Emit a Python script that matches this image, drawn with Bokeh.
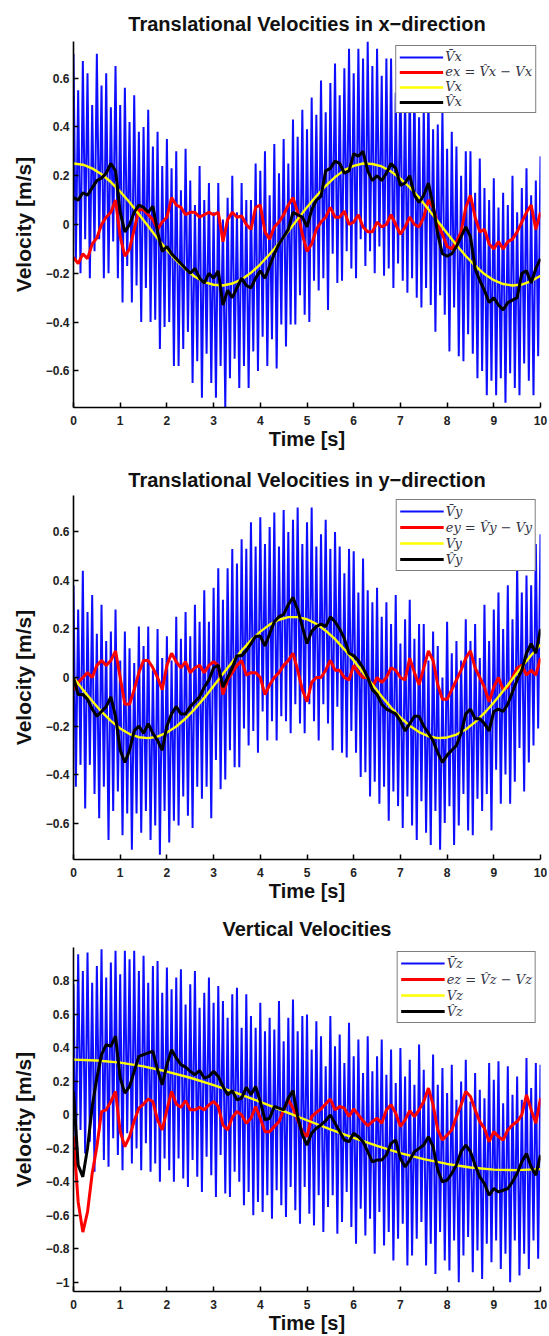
import numpy as np
from bokeh.plotting import figure
from bokeh.layouts import column
from bokeh.models import Range1d, FixedTicker, Legend, LegendItem
from bokeh.embed import file_html
from bokeh.resources import INLINE

# ---------------- data ----------------
x_ticks = [0, 1, 2, 3, 4, 5, 6, 7, 8, 9, 10]
xy_ticks = [-0.6, -0.4, -0.2, 0.0, 0.2, 0.4, 0.6]
xy_tick_labels = ["\u22120.6", "\u22120.4", "\u22120.2", "0", "0.2", "0.4", "0.6"]
z_ticks = [-1.0, -0.8, -0.6, -0.4, -0.2, 0.0, 0.2, 0.4, 0.6, 0.8]
z_tick_labels = ["\u22121", "\u22120.8", "\u22120.6", "\u22120.4", "\u22120.2", "0", "0.2", "0.4", "0.6", "0.8"]

titles = ["Translational Velocities in x\u2212direction",
          "Translational Velocities in y\u2212direction",
          "Vertical Velocities"]

labels_x = ["V\u0304x", "ex = V\u0302x \u2212 Vx", "Vx", "V\u0302x"]
labels_y = ["V\u0304y", "ey = V\u0302y \u2212 Vy", "Vy", "V\u0302y"]
labels_z = ["V\u0304z", "ez = V\u0302z \u2212 Vz", "Vz", "V\u0302z"]

# time bases (sample spacing of each series)
t_blue = np.arange(201) * 0.05
t_est = np.arange(101) * 0.1
t_ref_xy = np.arange(51) * 0.2
t_ref_z = np.arange(21) * 0.5

# measured velocity (noisy), x
blue_x = [0.70, -0.15, 0.55, -0.20, 0.67, -0.06, 0.62, -0.22, 0.49, -0.11,
          0.70, -0.06, 0.57, -0.22, 0.62, -0.20, 0.48, -0.07, 0.65, -0.22,
          0.49, -0.32, 0.56, -0.17, 0.42, -0.32, 0.53, -0.25, 0.38, -0.40,
          0.40, -0.26, 0.47, -0.40, 0.32, -0.39, 0.38, -0.51, 0.24, -0.42,
          0.35, -0.40, 0.23, -0.58, 0.30, -0.58, 0.14, -0.51, 0.31, -0.44,
          0.18, -0.65, 0.08, -0.56, 0.24, -0.71, 0.10, -0.53, 0.17, -0.65,
          0.05, -0.71, 0.17, -0.58, 0.02, -0.75, 0.11, -0.63, 0.20, -0.55,
          0.05, -0.67, 0.17, -0.58, 0.10, -0.67, 0.10, -0.52, 0.25, -0.60,
          0.22, -0.46, 0.30, -0.58, 0.12, -0.47, 0.33, -0.59, 0.21, -0.41,
          0.35, -0.50, 0.25, -0.41, 0.43, -0.41, 0.36, -0.29, 0.47, -0.37,
          0.39, -0.40, 0.52, -0.23, 0.45, -0.27, 0.59, -0.22, 0.46, -0.35,
          0.58, -0.12, 0.66, -0.24, 0.53, -0.23, 0.64, -0.11, 0.72, -0.18,
          0.62, -0.22, 0.72, -0.06, 0.68, -0.17, 0.75, -0.11, 0.65, -0.20,
          0.72, -0.09, 0.61, -0.21, 0.68, -0.18, 0.68, -0.26, 0.54, -0.16,
          0.63, -0.23, 0.54, -0.28, 0.59, -0.22, 0.59, -0.30, 0.44, -0.34,
          0.49, -0.26, 0.55, -0.33, 0.39, -0.44, 0.41, -0.29, 0.47, -0.37,
          0.31, -0.52, 0.38, -0.34, 0.32, -0.54, 0.20, -0.56, 0.30, -0.45,
          0.30, -0.53, 0.13, -0.63, 0.27, -0.60, 0.15, -0.70, 0.10, -0.64,
          0.19, -0.70, 0.07, -0.63, 0.13, -0.73, 0.08, -0.61, 0.20, -0.67,
          0.05, -0.70, 0.15, -0.57, 0.23, -0.64, 0.12, -0.70, 0.18, -0.54,
          0.28]

err_x = [-0.135, -0.16, -0.12, -0.14, -0.08, -0.055, 0.0, 0.03, 0.05, 0.10,
         -0.05, -0.13, -0.10, -0.02, 0.06, 0.06, 0.04, 0.02, -0.02, 0.01,
         0.03, 0.11, 0.08, 0.07, 0.04, 0.05, 0.05, 0.03, 0.04, 0.05,
         0.04, 0.05, -0.07, 0.02, 0.05, 0.03, 0.035, 0.0, -0.02, 0.07,
         0.08, -0.03, -0.06, -0.01, 0.01, 0.04, 0.08, 0.11, 0.05, -0.04,
         -0.11, -0.08, -0.02, 0.01, 0.03, 0.07, 0.03, 0.03, 0.055, 0.0,
         0.01, 0.04, -0.01, -0.03, -0.03, 0.01, -0.01, 0.0, 0.04, 0.0,
         -0.04, -0.01, 0.03, 0.0, -0.01, 0.03, 0.10, 0.07, 0.0, -0.04,
         -0.09, -0.10, -0.07, -0.03, 0.07, 0.12, 0.03, -0.03, -0.02, -0.08,
         -0.10, -0.07, -0.10, -0.07, -0.06, -0.03, 0.01, 0.05, 0.08, -0.02,
         0.05]

ref_x = [0.250, 0.245, 0.230, 0.206, 0.174, 0.135, 0.091, 0.042, -0.007, -0.057,
         -0.104, -0.147, -0.184, -0.214, -0.236, -0.247, -0.250, -0.242, -0.225, -0.198,
         -0.163, -0.122, -0.077, -0.028, 0.022, 0.071, 0.117, 0.158, 0.194, 0.223,
         0.240, 0.250, 0.248, 0.238, 0.217, 0.188, 0.152, 0.110, 0.062, 0.013,
         -0.036, -0.084, -0.129, -0.169, -0.203, -0.228, -0.244, -0.250, -0.246, -0.232,
         -0.210]

est_x = [0.11, 0.10, 0.13, 0.12, 0.15, 0.18, 0.19, 0.21, 0.25, 0.22,
         0.05, -0.03, 0.00, 0.05, 0.08, 0.07, 0.05, 0.075, -0.03, -0.11,
         -0.09, -0.12, -0.14, -0.16, -0.18, -0.20, -0.18, -0.22, -0.24, -0.20,
         -0.22, -0.19, -0.33, -0.27, -0.30, -0.26, -0.22, -0.25, -0.26, -0.22,
         -0.19, -0.22, -0.17, -0.12, -0.08, -0.05, -0.02, 0.05, 0.04, 0.03,
         -0.01, 0.06, 0.10, 0.115, 0.22, 0.23, 0.26, 0.25, 0.21, 0.22,
         0.29, 0.28, 0.30, 0.22, 0.18, 0.20, 0.18, 0.21, 0.25, 0.23,
         0.16, 0.17, 0.20, 0.12, 0.09, 0.12, 0.17, 0.08, -0.04, -0.12,
         -0.13, -0.12, -0.09, -0.05, -0.01, -0.05, -0.18, -0.23, -0.27, -0.32,
         -0.30, -0.33, -0.35, -0.32, -0.31, -0.30, -0.20, -0.19, -0.24, -0.18,
         -0.14]

# y direction
blue_y = [0.38, -0.45, 0.28, -0.36, 0.44, -0.54, 0.27, -0.36, 0.34, -0.48,
          0.18, -0.58, 0.30, -0.45, 0.15, -0.67, 0.19, -0.55, 0.28, -0.47,
          0.07, -0.65, 0.19, -0.56, 0.12, -0.71, 0.06, -0.56, 0.21, -0.64,
          0.13, -0.55, 0.21, -0.67, 0.03, -0.61, 0.20, -0.73, 0.08, -0.55,
          0.17, -0.68, 0.07, -0.59, 0.25, -0.61, 0.16, -0.49, 0.27, -0.57,
          0.17, -0.62, 0.30, -0.45, 0.23, -0.50, 0.36, -0.45, 0.23, -0.58,
          0.37, -0.34, 0.45, -0.46, 0.32, -0.42, 0.45, -0.30, 0.53, -0.37,
          0.47, -0.37, 0.57, -0.21, 0.53, -0.28, 0.64, -0.22, 0.54, -0.31,
          0.66, -0.14, 0.55, -0.26, 0.62, -0.18, 0.68, -0.26, 0.54, -0.16,
          0.69, -0.18, 0.60, -0.23, 0.65, -0.11, 0.70, -0.19, 0.55, -0.23,
          0.64, -0.11, 0.70, -0.18, 0.54, -0.26, 0.59, -0.11, 0.65, -0.19,
          0.53, -0.30, 0.60, -0.12, 0.54, -0.31, 0.43, -0.33, 0.53, -0.22,
          0.52, -0.31, 0.35, -0.41, 0.49, -0.39, 0.36, -0.49, 0.31, -0.43,
          0.37, -0.52, 0.25, -0.45, 0.31, -0.59, 0.22, -0.47, 0.34, -0.53,
          0.14, -0.62, 0.24, -0.49, 0.32, -0.61, 0.16, -0.67, 0.22, -0.51,
          0.22, -0.64, 0.07, -0.69, 0.19, -0.55, 0.13, -0.71, 0.00, -0.60,
          0.23, -0.53, 0.10, -0.69, 0.15, -0.61, 0.07, -0.48, 0.24, -0.63,
          0.15, -0.65, 0.22, -0.50, 0.08, -0.55, 0.30, -0.48, 0.15, -0.63,
          0.28, -0.38, 0.35, -0.52, 0.20, -0.40, 0.38, -0.52, 0.24, -0.43,
          0.47, -0.29, 0.35, -0.47, 0.42, -0.35, 0.38, -0.28, 0.55, -0.21,
          0.59]

err_y = [-0.05, -0.02, 0.0, 0.02, 0.0, 0.05, 0.07, 0.05, 0.07, 0.11,
         0.0, -0.11, -0.11, -0.05, 0.02, 0.07, 0.07, 0.04, 0.0, -0.05,
         0.05, 0.10, 0.065, 0.04, 0.065, 0.02, 0.04, 0.05, 0.02, 0.05,
         0.065, 0.05, -0.07, -0.01, 0.02, 0.05, 0.07, 0.01, 0.02, 0.02,
         0.0, -0.07, -0.03, 0.0, 0.02, 0.05, 0.07, 0.10, 0.03, -0.05,
         -0.10, -0.02, 0.0, 0.0, 0.03, 0.07, 0.03, 0.03, 0.0, -0.01,
         0.05, 0.02, 0.0, 0.0, -0.04, 0.0, -0.02, 0.0, 0.04, 0.03,
         0.0, -0.01, 0.08, 0.02, -0.03, 0.04, 0.11, 0.07, -0.03, -0.09,
         -0.09, -0.05, -0.01, 0.03, 0.08, 0.11, 0.04, 0.0, -0.04, -0.10,
         -0.04, 0.0, -0.05, -0.04, 0.0, 0.04, 0.05, 0.01, 0.03, 0.01,
         0.08]

ref_y = [0.0, -0.050, -0.097, -0.141, -0.179, -0.210, -0.233, -0.246, -0.250, -0.244,
         -0.227, -0.202, -0.169, -0.129, -0.084, -0.035, 0.015, 0.064, 0.111, 0.153,
         0.189, 0.218, 0.238, 0.249, 0.249, 0.240, 0.221, 0.193, 0.158, 0.116,
         0.070, 0.021, -0.029, -0.078, -0.124, -0.164, -0.199, -0.225, -0.242, -0.250,
         -0.247, -0.235, -0.214, -0.184, -0.146, -0.103, -0.056, -0.006, 0.044, 0.092,
         0.136]

est_y = [0.0, -0.07, -0.07, -0.09, -0.13, -0.16, -0.14, -0.12, -0.08, -0.16,
         -0.30, -0.35, -0.30, -0.22, -0.20, -0.23, -0.19, -0.23, -0.26, -0.30,
         -0.20, -0.15, -0.12, -0.15, -0.15, -0.12, -0.10, -0.08, -0.04, -0.01,
         0.04, 0.05, -0.04, 0.0, 0.04, 0.09, 0.09, 0.11, 0.14, 0.17,
         0.17, 0.13, 0.18, 0.23, 0.25, 0.26, 0.30, 0.33, 0.28, 0.21,
         0.14, 0.19, 0.21, 0.22, 0.21, 0.25, 0.23, 0.20, 0.16, 0.10,
         0.09, 0.07, 0.04, 0.0, -0.05, -0.07, -0.11, -0.13, -0.14, -0.15,
         -0.18, -0.22, -0.19, -0.16, -0.16, -0.20, -0.23, -0.26, -0.31, -0.35,
         -0.32, -0.30, -0.28, -0.23, -0.15, -0.13, -0.17, -0.17, -0.19, -0.22,
         -0.14, -0.13, -0.14, -0.11, -0.06, -0.01, 0.03, 0.10, 0.14, 0.10,
         0.20]

# vertical
blue_z = [0.78, -0.33, 0.96, -0.09, 0.86, -0.23, 0.97, -0.16, 0.79, -0.34,
          0.89, -0.10, 0.99, -0.27, 0.82, -0.31, 0.91, -0.14, 0.98, -0.24,
          0.84, -0.33, 0.98, -0.11, 0.93, -0.29, 0.98, -0.20, 0.86, -0.33,
          0.95, -0.17, 0.79, -0.34, 0.89, -0.29, 0.92, -0.40, 0.73, -0.26,
          0.88, -0.33, 0.75, -0.40, 0.82, -0.26, 0.87, -0.38, 0.66, -0.43,
          0.78, -0.27, 0.86, -0.37, 0.64, -0.46, 0.73, -0.25, 0.82, -0.36,
          0.67, -0.49, 0.77, -0.24, 0.68, -0.47, 0.58, -0.49, 0.72, -0.34,
          0.76, -0.40, 0.52, -0.54, 0.72, -0.46, 0.59, -0.60, 0.52, -0.52,
          0.67, -0.58, 0.50, -0.48, 0.58, -0.62, 0.51, -0.45, 0.68, -0.54,
          0.44, -0.61, 0.58, -0.43, 0.69, -0.57, 0.50, -0.65, 0.59, -0.43,
          0.60, -0.59, 0.39, -0.66, 0.56, -0.48, 0.47, -0.70, 0.29, -0.55,
          0.59, -0.48, 0.41, -0.71, 0.48, -0.64, 0.31, -0.46, 0.55, -0.67,
          0.35, -0.77, 0.45, -0.56, 0.25, -0.72, 0.47, -0.62, 0.26, -0.83,
          0.35, -0.58, 0.45, -0.78, 0.24, -0.70, 0.39, -0.87, 0.19, -0.74,
          0.40, -0.65, 0.23, -0.90, 0.33, -0.84, 0.18, -0.74, 0.42, -0.64,
          0.27, -0.90, 0.13, -0.77, 0.36, -0.95, 0.18, -0.70, 0.28, -0.87,
          0.13, -0.93, 0.30, -0.75, 0.09, -1.00, 0.20, -0.84, 0.33, -0.73,
          0.08, -0.94, 0.25, -0.81, 0.15, -0.98, 0.10, -0.77, 0.31, -0.88,
          0.21, -0.75, 0.32, -0.92, 0.07, -0.83, 0.29, -1.00, 0.12, -0.75,
          0.23, -0.96, 0.09, -0.83, 0.34, -0.92, 0.16, -0.75, 0.31, -0.86,
          0.30]

err_z = [-0.13, -0.52, -0.70, -0.58, -0.35, -0.19, 0.02, 0.03, 0.08, 0.14,
         -0.10, -0.19, -0.13, -0.035, 0.04, 0.065, 0.095, 0.08, -0.03, -0.09,
         0.03, 0.14, 0.065, 0.045, 0.085, 0.03, 0.03, 0.045, 0.03, 0.06,
         0.08, 0.05, -0.06, -0.09, -0.015, 0.02, 0.0, -0.05, -0.02, 0.05,
         -0.02, -0.10, -0.10, -0.07, -0.04, 0.03, 0.09, 0.04, -0.03, -0.10,
         -0.13, -0.01, 0.015, 0.035, 0.065, 0.095, 0.03, 0.05, 0.04, -0.01,
         0.035, 0.0, -0.035, -0.065, -0.04, -0.02, -0.05, 0.03, 0.06, 0.01,
         -0.07, -0.03, 0.025, -0.01, 0.03, 0.08, 0.16, 0.06, -0.09, -0.15,
         -0.12, -0.09, -0.01, 0.06, 0.14, 0.11, 0.03, -0.04, -0.08, -0.16,
         -0.10, -0.13, -0.15, -0.09, -0.06, -0.04, 0.0, 0.12, 0.03, -0.05,
         0.10]

ref_z = [0.330, 0.325, 0.312, 0.290, 0.259, 0.222, 0.178, 0.130, 0.078, 0.023,
         -0.032, -0.086, -0.137, -0.185, -0.228, -0.264, -0.293, -0.314, -0.327, -0.330,
         -0.324]

est_z = [0.14, -0.30, -0.37, -0.20, 0.05, 0.22, 0.36, 0.42, 0.41, 0.47,
         0.22, 0.13, 0.17, 0.26, 0.35, 0.36, 0.37, 0.38, 0.27, 0.18,
         0.30, 0.39, 0.34, 0.30, 0.285, 0.26, 0.24, 0.265, 0.22, 0.23,
         0.26, 0.23, 0.17, 0.12, 0.145, 0.09, 0.10, 0.165, 0.12, 0.17,
         0.08, -0.03, -0.02, 0.05, 0.04, 0.03, 0.10, 0.145, -0.01, -0.12,
         -0.18, -0.11, -0.08, -0.06, -0.035, 0.0, -0.05, -0.10, -0.15, -0.16,
         -0.11, -0.13, -0.16, -0.22, -0.28, -0.27, -0.27, -0.24, -0.17, -0.15,
         -0.26, -0.31, -0.27, -0.22, -0.20, -0.18, -0.13, -0.19, -0.33, -0.40,
         -0.39, -0.35, -0.30, -0.22, -0.18, -0.22, -0.30, -0.37, -0.41, -0.48,
         -0.44, -0.46, -0.45, -0.44, -0.40, -0.35, -0.28, -0.23, -0.31, -0.36,
         -0.24]

FONT = "Liberation Sans"


def make_panel(title, y_lo, y_hi, yt, ytl, blue, err, ref, t_ref, est, labels,
               height, top, bottom, lab_h, title_standoff):
    p = figure(width=549, height=height, x_range=Range1d(0, 10),
               y_range=Range1d(y_lo, y_hi), output_backend="svg",
               toolbar_location=None, min_border_left=73, min_border_right=9,
               min_border_top=top, min_border_bottom=bottom)
    p.outline_line_color = None
    p.xgrid.visible = False
    p.ygrid.visible = False
    p.background_fill_color = "white"
    p.border_fill_color = "white"

    p.title.text = title
    p.title.align = "center"
    p.title.text_font = FONT
    p.title.text_font_size = "20px"
    p.title.text_font_style = "bold"
    p.title.text_color = "#111111"
    p.title.standoff = title_standoff

    for ax in (p.xaxis[0], p.yaxis[0]):
        ax.axis_line_width = 1.6
        ax.axis_line_color = "black"
        ax.major_tick_in = 5
        ax.major_tick_out = 0
        ax.minor_tick_in = 0
        ax.minor_tick_out = 0
        ax.major_tick_line_width = 1.5
        ax.major_label_text_font = FONT
        ax.major_label_text_font_style = "bold"
        ax.major_label_text_font_size = "12px"
        ax.major_label_text_color = "#222222"
        ax.axis_label_text_font = FONT
        ax.axis_label_text_font_style = "bold"
        ax.axis_label_text_color = "#111111"

    p.xaxis.ticker = FixedTicker(ticks=x_ticks)
    p.xaxis.major_label_standoff = 8
    p.xaxis.axis_label = "Time [s]"
    p.xaxis.axis_label_standoff = 0
    p.xaxis.axis_label_text_font_size = "20px"
    p.yaxis.ticker = FixedTicker(ticks=yt)
    p.yaxis.major_label_overrides = {v: s for v, s in zip(yt, ytl)}
    p.yaxis.major_label_standoff = 4
    p.yaxis.axis_label = "Velocity [m/s]"
    p.yaxis.axis_label_standoff = 8
    p.yaxis.axis_label_text_font_size = "21px"

    r_blue = p.line(t_blue, blue, line_color="#0000ff", line_width=2.0, line_alpha=0.95)
    r_err = p.line(t_est, err, line_color="#ff0000", line_width=3.0)
    r_ref = p.line(t_ref, ref, line_color="#ffff00", line_width=2.4)
    r_est = p.line(t_est, est, line_color="black", line_width=3.0)

    legend = Legend(items=[LegendItem(label=labels[0], renderers=[r_blue]),
                           LegendItem(label=labels[1], renderers=[r_err]),
                           LegendItem(label=labels[2], renderers=[r_ref]),
                           LegendItem(label=labels[3], renderers=[r_est])],
                    location="top_right")
    legend.border_line_color = "black"
    legend.border_line_width = 1.5
    legend.background_fill_color = "white"
    legend.background_fill_alpha = 1.0
    legend.label_text_font = "DejaVu Serif"
    legend.label_text_font_style = "italic"
    legend.label_text_font_size = "13px"
    legend.label_text_color = "#333344"
    legend.glyph_width = 44
    legend.glyph_height = lab_h
    legend.label_height = lab_h
    legend.label_standoff = 2
    legend.spacing = 0
    legend.padding = 3
    legend.margin = 4
    p.add_layout(legend)
    return p


p1 = make_panel(titles[0], -0.75, 0.75, xy_ticks, xy_tick_labels, blue_x, err_x,
                ref_x, t_ref_xy, est_x, labels_x, 452, 41, 42, 14, 14)
p2 = make_panel(titles[1], -0.75, 0.75, xy_ticks, xy_tick_labels, blue_y, err_y,
                ref_y, t_ref_xy, est_y, labels_y, 452, 43, 41, 16, 10)
p3 = make_panel(titles[2], -1.055, 1.0, z_ticks, z_tick_labels, blue_z, err_z,
                ref_z, t_ref_z, est_z, labels_z, 432, 43, 45, 16, 15)

layout = column(p1, p2, p3)
open("out.html", "w").write(file_html(layout, INLINE))
